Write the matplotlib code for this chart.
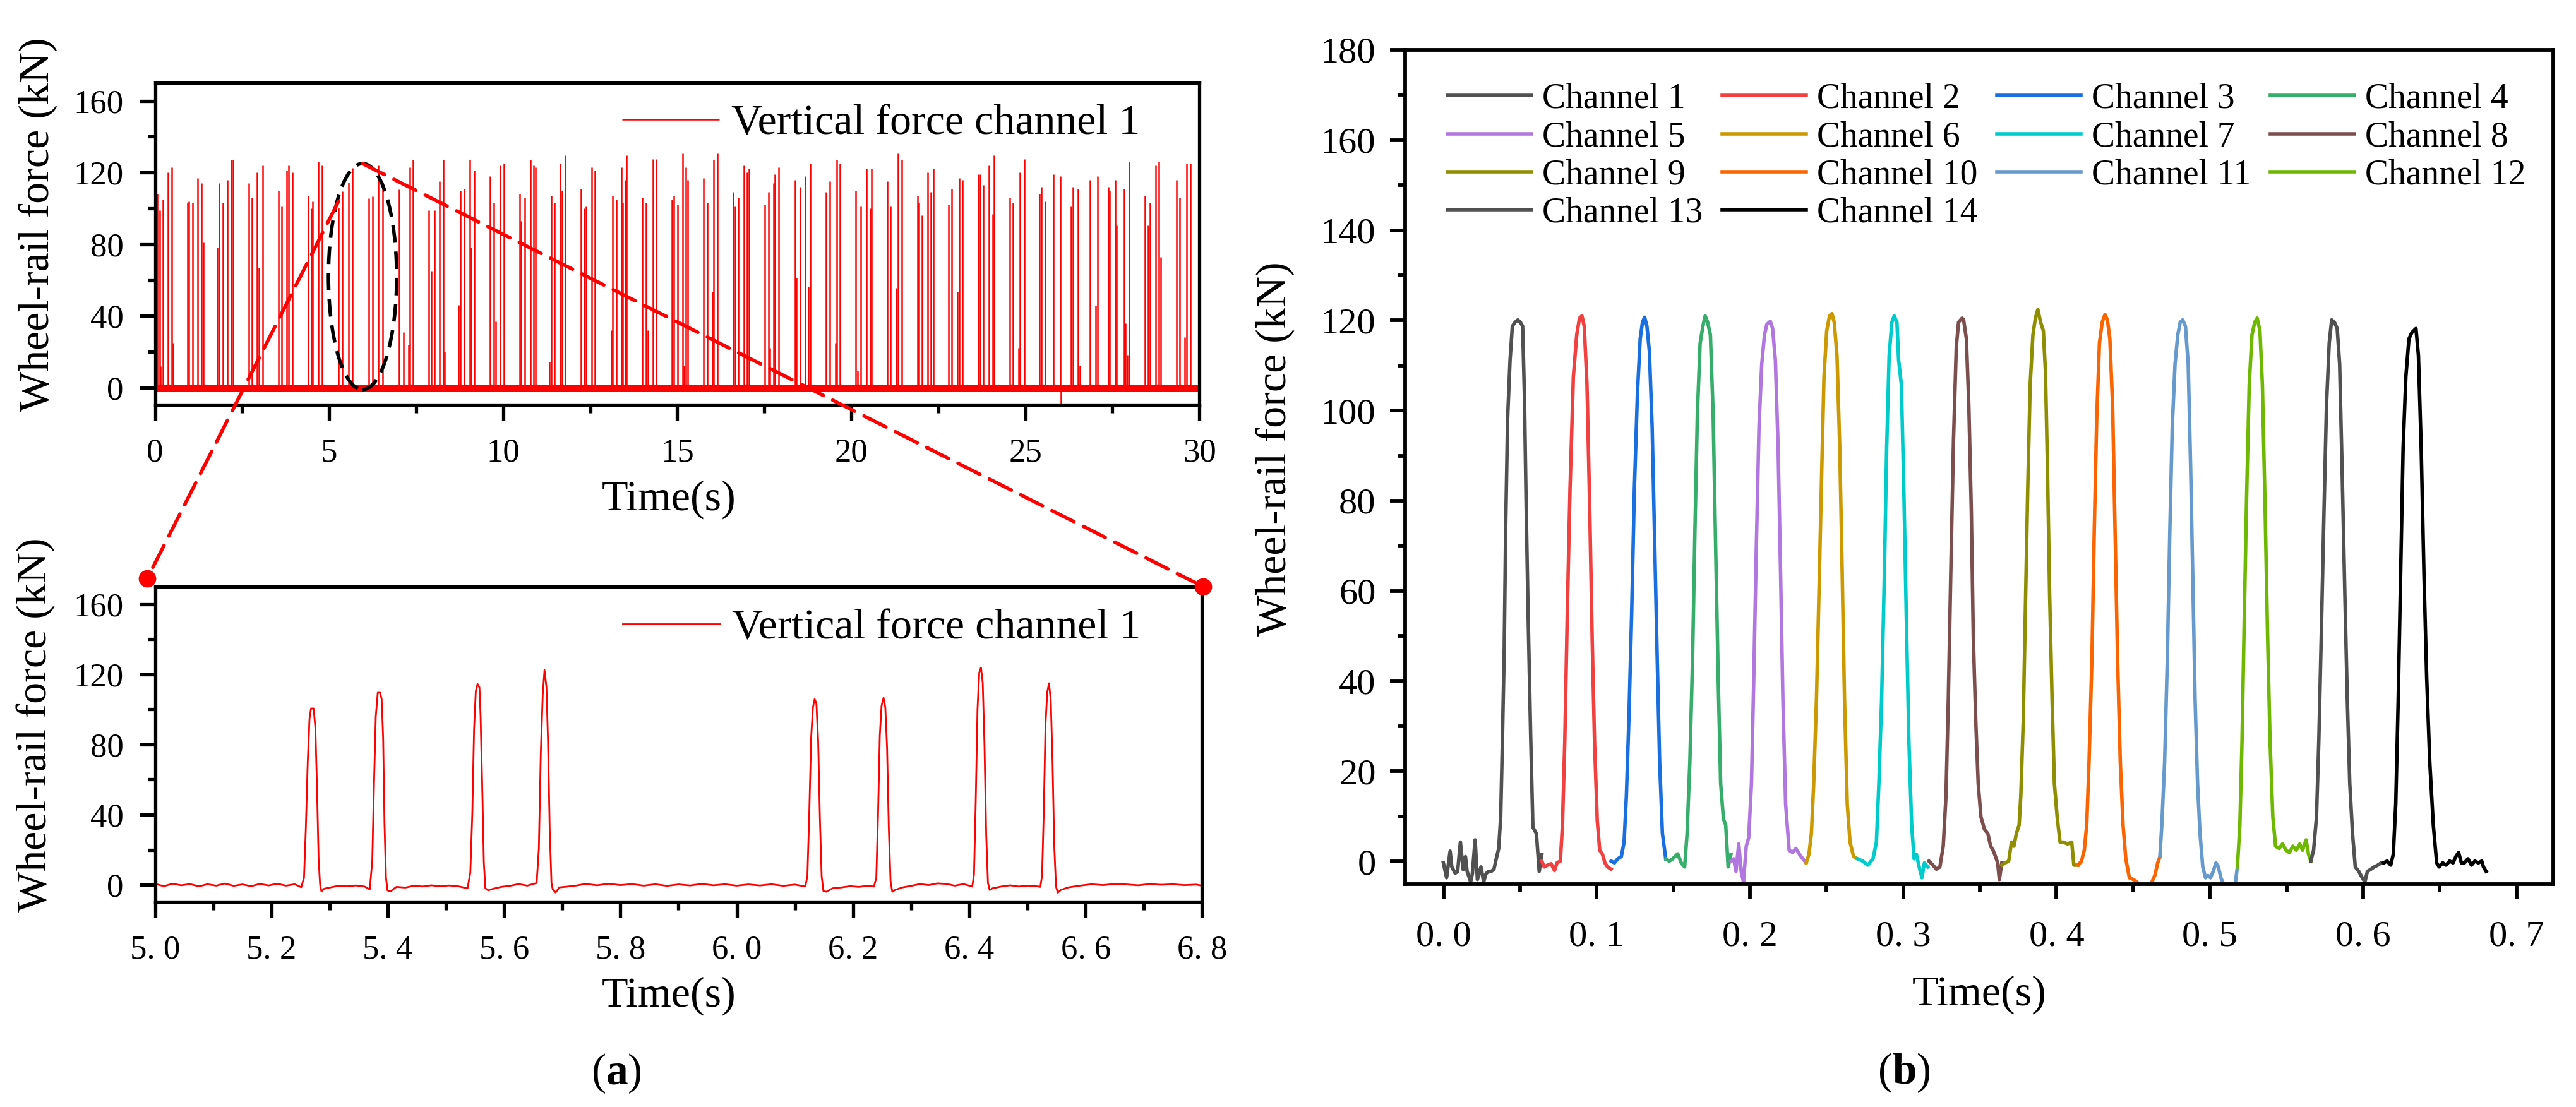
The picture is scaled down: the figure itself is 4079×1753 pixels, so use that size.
import matplotlib.pyplot as plt
from matplotlib.patches import Ellipse, ConnectionPatch
from matplotlib.ticker import MultipleLocator

plt.rcParams['font.family'] = ['Liberation Serif', 'DejaVu Serif']
plt.rcParams['mathtext.fontset'] = 'custom'
plt.rcParams['mathtext.rm'] = 'Liberation Serif'
plt.rcParams['mathtext.bf'] = 'Liberation Serif:bold'

# (a) top: 30 s record of vertical force, channel 1 (one spike per wheel)
spike_t = [0.062, 0.127, 0.153, 0.224, 0.367, 0.470, 0.516, 0.924, 0.969, 1.079,
           1.228, 1.325, 1.377, 1.779, 1.831, 1.941, 2.084, 2.181, 2.233, 2.686,
           2.784, 2.933, 2.978, 3.088, 3.542, 3.639, 3.788, 3.840, 3.950, 4.390,
           4.488, 4.533, 4.695, 4.805, 5.268, 5.383, 5.554, 5.670, 6.134, 6.253,
           6.420, 6.537, 7.015, 7.145, 7.287, 7.320, 7.417, 7.857, 7.935, 8.032,
           8.162, 8.272, 8.324, 8.713, 8.765, 8.875, 9.037, 9.069, 9.166, 9.620,
           9.737, 9.782, 9.912, 10.029, 10.475, 10.520, 10.617, 10.779, 10.876, 10.928,
           11.330, 11.382, 11.479, 11.635, 11.686, 11.783, 12.237, 12.334, 12.386, 12.542,
           12.639, 13.099, 13.145, 13.242, 13.391, 13.436, 13.501, 13.546, 14.000, 14.097,
           14.149, 14.298, 14.395, 14.843, 14.907, 15.005, 15.154, 15.193, 15.251, 15.303,
           15.757, 15.854, 16.009, 16.048, 16.158, 16.612, 16.657, 16.761, 16.917, 17.014,
           17.066, 17.506, 17.616, 17.662, 17.765, 17.811, 17.921, 18.381, 18.414, 18.524,
           18.673, 18.770, 18.828, 19.282, 19.379, 19.541, 19.580, 19.677, 20.124, 20.181,
           20.278, 20.427, 20.537, 20.589, 21.030, 21.127, 21.289, 21.334, 21.444, 21.898,
           21.931, 22.034, 22.190, 22.293, 22.352, 22.792, 22.890, 23.039, 23.097, 23.194,
           23.648, 23.700, 23.797, 23.946, 24.056, 24.108, 24.555, 24.652, 24.814, 24.847,
           24.964, 25.404, 25.469, 25.560, 25.806, 26.013, 26.020, 26.311, 26.369, 26.518,
           26.564, 26.862, 27.018, 27.070, 27.375, 27.427, 27.576, 27.621, 27.835, 27.880,
           27.932, 27.990, 28.431, 28.528, 28.580, 28.736, 28.833, 28.885, 29.339, 29.436,
           29.585, 29.637, 29.740]
spike_f = [108, 99, 12, 105, 120, 123, 25, 103, 104, 103,
           117, 114, 81, 78, 114, 103, 116, 127, 127, 114,
           106, 120, 67, 124, 110, 101, 121, 124, 120, 107,
           100, 104, 126, 124, 100.5, 109.5, 114.5, 122.4, 105.8, 106.6,
           123.9, 114.9, 110.5, 31, 24, 123, 127, 99, 65, 99,
           115, 127, 20, 46, 110, 111, 127, 78, 121, 118,
           103, 37, 124, 125, 108, 93, 106, 127, 124, 123,
           14.5, 107, 103, 125, 110, 129.5, 111, 100, 101, 123,
           121, 32, 107, 105, 123, 103, 116, 129.5, 106, 103,
           32, 127.6, 127.6, 105, 107, 102, 130.6, 12.5, 123, 116,
           117, 103, 53.6, 127, 130.6, 109, 101, 106, 124, 120,
           122, 102, 109, 22.3, 114, 119, 123, 116, 61.2, 112,
           118, 56.5, 125, 109, 115, 25.1, 127, 125, 110, 9.6,
           101, 122, 100, 122, 115, 101, 55.5, 130.6, 127, 107,
           103, 96, 120, 109, 122, 102, 111, 53.6, 117, 116,
           119, 119, 113, 124, 97, 129.5, 106, 103, 22.3, 120,
           127.6, 108, 112, 104, 119, 118, -9, 101, 112, 111,
           12.5, 116, 45.7, 118, 112, 110, 116, 90.5, 111, 35.9,
           18.4, 126, 107, 90.5, 103, 124, 126, 72.9, 116, 106,
           28.1, 125, 125]
band_t = [0, 30]
band_lo = [-2.6, -2.6]
band_hi = [1.8, 1.8]

# (a) bottom: 5.0-6.8 s detail of the same channel
zoom_t = [5.000, 5.015, 5.030, 5.045, 5.060, 5.075, 5.090, 5.105, 5.120, 5.135,
          5.150, 5.165, 5.180, 5.195, 5.210, 5.225, 5.240, 5.2512, 5.2560, 5.2590,
          5.2624, 5.2654, 5.2680, 5.2725, 5.2755, 5.2781, 5.2811, 5.2837, 5.2860, 5.2904,
          5.300, 5.315, 5.330, 5.345, 5.360, 5.369, 5.3734, 5.3764, 5.3794, 5.3828,
          5.3869, 5.3895, 5.3921, 5.3944, 5.3970, 5.3996, 5.4045, 5.415, 5.430, 5.445,
          5.460, 5.475, 5.490, 5.505, 5.520, 5.5372, 5.5420, 5.5454, 5.5484, 5.5514,
          5.5544, 5.5577, 5.5596, 5.5626, 5.5652, 5.5678, 5.5727, 5.580, 5.595, 5.610,
          5.625, 5.640, 5.6560, 5.6598, 5.6631, 5.6665, 5.6695, 5.6729, 5.6755, 5.6785,
          5.6815, 5.6837, 5.6886, 5.695, 5.710, 5.725, 5.740, 5.760, 5.780, 5.800,
          5.820, 5.840, 5.860, 5.880, 5.900, 5.920, 5.940, 5.960, 5.980, 6.000,
          6.020, 6.040, 6.060, 6.080, 6.100, 6.118, 6.1215, 6.1245, 6.1280, 6.1310,
          6.1340, 6.1370, 6.1400, 6.1430, 6.1460, 6.1490, 6.1540, 6.165, 6.180, 6.195,
          6.210, 6.225, 6.236, 6.2400, 6.2430, 6.2460, 6.2490, 6.2525, 6.2555, 6.2585,
          6.2615, 6.2645, 6.2675, 6.2720, 6.285, 6.300, 6.315, 6.330, 6.345, 6.360,
          6.375, 6.390, 6.405, 6.4080, 6.4110, 6.4140, 6.4170, 6.4200, 6.4230, 6.4260,
          6.4290, 6.4320, 6.4350, 6.4400, 6.455, 6.470, 6.485, 6.500, 6.515, 6.522,
          6.5250, 6.5280, 6.5310, 6.5340, 6.5370, 6.5400, 6.5430, 6.5460, 6.5490, 6.5520,
          6.5570, 6.570, 6.590, 6.610, 6.630, 6.650, 6.670, 6.690, 6.710, 6.730,
          6.750, 6.770, 6.790, 6.800]
zoom_f = [0.5, -0.8, 0.6, -0.3, 0.4, -0.9, 0.3, -0.5, 0.7, -0.6,
          0.2, -0.8, 0.5, -0.4, 0.6, -0.5, 0.3, -1.4, 4.0, 30.9,
          69.9, 94.5, 100.5, 100.5, 89.7, 58.5, 14.7, -0.2, -3.8, -2.3,
          -1.6, -0.6, -0.9, -0.4, -1.0, -2.6, 13.5, 57.9, 95.7, 109.5,
          109.5, 105.9, 83.7, 35.1, 4.0, -3.2, -3.8, -1.2, -1.6, -0.6,
          -1.0, -0.3, -0.9, -0.4, -0.8, -2.0, 7.0, 40.5, 88.5, 110.3,
          114.5, 112.5, 96.5, 53.7, 13.0, -2.0, -3.2, -2.4, -1.2, -0.6,
          0.4, -0.5, 1.0, 20.7, 74.7, 108.5, 122.4, 112.5, 82.5, 30.9,
          1.0, -2.6, -4.4, -1.5, -1.0, -0.4, 0.5, -0.3, 0.6, -0.2,
          0.4, -0.5, 0.3, -0.6, 0.2, -0.4, 0.5, -0.3, 0.3, -0.5,
          0.2, -0.4, 0.3, -0.6, 0.1, -1.0, 5.0, 38.0, 84.0, 101.0,
          105.8, 103.5, 82.0, 38.0, 5.0, -3.5, -4.0, -2.0, -1.5, -0.8,
          -1.2, -0.6, -1.0, 4.0, 40.0, 85.0, 102.0, 106.6, 101.0, 78.0,
          32.0, 2.0, -4.0, -3.0, -1.5, -0.6, 0.4, -0.2, 0.8, 0.5,
          -0.5, 0.4, -1.0, 6.0, 48.0, 100.0, 121.0, 123.9, 115.0, 80.0,
          28.0, 1.0, -3.0, -2.0, -1.0, -0.3, -1.0, -0.5, -0.8, -1.2,
          5.0, 42.0, 92.0, 110.0, 114.9, 105.0, 70.0, 22.0, -1.0, -4.5,
          -3.0, -1.5, -0.5, 0.3, -0.2, 0.5, 0.2, -0.3, 0.4, 0.0,
          0.3, -0.2, 0.1, -0.5]
zoom_ticks = [5.0, 5.2, 5.4, 5.6, 5.8, 6.0, 6.2, 6.4, 6.6, 6.8]
zoom_tick_labels = ['5. 0', '5. 2', '5. 4', '5. 6', '5. 8', '6. 0', '6. 2', '6. 4', '6. 6', '6. 8']

# (b) one wheel passage seen by the 14 channels
ch1_t = [0.000, 0.0021, 0.0044, 0.0055, 0.0077, 0.0093, 0.0111, 0.0129, 0.0144, 0.0155,
         0.0178, 0.0189, 0.0207, 0.0222, 0.0245, 0.0263, 0.0278, 0.0294, 0.0312, 0.0330,
         0.0345, 0.0361, 0.0374, 0.0385, 0.0397, 0.0406, 0.0419, 0.0435, 0.0450, 0.0468,
         0.0486, 0.0502, 0.0517, 0.0529, 0.0540, 0.0553, 0.0569, 0.0584, 0.0607, 0.0625, 0.0642]
ch1_f = [-0.3, -3.6, 2.3, -1.2, -2.6, -2.2, 4.3, -1.8, 1.1, -2.2,
         -4.5, -2.7, 4.8, -4.0, -1.2, -4.5, -2.7, -2.2, -2.2, -1.7,
         0.6, 2.9, 9.9, 26.6, 47.1, 73.1, 98.2, 111.2, 118.7, 119.6,
         120.1, 119.6, 118.7, 102.9, 78.7, 54.5, 28.5, 7.6, 6.2, -2.2, 1.5]
ch2_t = [0.0642, 0.0658, 0.0680, 0.0703, 0.0725, 0.0741, 0.0763, 0.0777, 0.0792, 0.0808,
         0.0826, 0.0848, 0.0870, 0.0888, 0.0904, 0.0919, 0.0937, 0.0955, 0.0971, 0.0986,
         0.1004, 0.1020, 0.1038, 0.1054, 0.1071, 0.1094]
ch2_f = [0.1, -1.2, -0.8, -0.5, -2.0, -0.3, 0.1, 8.1, 26.6, 54.5,
         82.4, 107.5, 116.8, 120.5, 121.0, 118.7, 105.7, 77.8, 49.0, 26.6,
         9.0, 2.5, 1.6, -0.3, -1.2, -1.7]
ch3_t = [0.1094, 0.1116, 0.1138, 0.1161, 0.1179, 0.1194, 0.1210, 0.1228, 0.1246, 0.1266,
         0.1284, 0.1299, 0.1313, 0.1328, 0.1344, 0.1362, 0.1380, 0.1395, 0.1411, 0.1429, 0.1451]
ch3_f = [0.1, -0.3, 0.6, 1.1, 4.3, 14.6, 31.3, 54.5, 82.4, 103.8,
         115.9, 119.6, 120.7, 118.7, 113.1, 96.4, 68.5, 45.2, 22.0, 6.2, 0.6]
ch4_t = [0.1451, 0.1474, 0.1496, 0.1529, 0.1552, 0.1574, 0.1590, 0.1608, 0.1626, 0.1641,
         0.1657, 0.1675, 0.1693, 0.1708, 0.1724, 0.1742, 0.1760, 0.1777, 0.1793, 0.1809,
         0.1827, 0.1842, 0.1858, 0.1876]
ch4_f = [0.6, 0.1, 0.6, 1.7, -0.3, -1.2, 6.2, 22.0, 45.2, 73.1,
         99.2, 114.9, 118.7, 121.0, 119.6, 116.8, 99.2, 68.5, 40.6, 17.3,
         9.5, 8.1, -1.2, 1.6]
ch5_t = [0.1876, 0.1894, 0.1909, 0.1927, 0.1943, 0.1958, 0.1976, 0.1992, 0.2010, 0.2025,
         0.2041, 0.2059, 0.2077, 0.2095, 0.2110, 0.2133, 0.2148, 0.2166, 0.2184, 0.2200,
         0.2215, 0.2233, 0.2256, 0.2278, 0.2300, 0.2323, 0.2345, 0.2367]
ch5_f = [0.1, 0.6, -2.2, 3.9, -2.2, -4.5, 3.4, 5.3, 17.3, 40.6,
         68.5, 96.4, 110.3, 116.8, 119.1, 119.8, 118.2, 111.2, 91.7, 63.8,
         35.9, 12.7, 2.5, 2.0, 2.9, 1.6, 0.6, -0.3]
ch6_t = [0.2367, 0.2385, 0.2401, 0.2416, 0.2434, 0.2450, 0.2468, 0.2483, 0.2501, 0.2519,
         0.2535, 0.2550, 0.2568, 0.2586, 0.2602, 0.2617, 0.2635, 0.2653, 0.2676, 0.2702]
ch6_f = [-0.3, 1.6, 6.2, 17.3, 35.9, 59.2, 86.1, 107.5, 117.7, 121.0,
         121.5, 119.6, 112.2, 91.7, 63.8, 35.9, 12.7, 4.3, 1.1, 0.6]
ch7_t = [0.2702, 0.2736, 0.2769, 0.2803, 0.2825, 0.2841, 0.2859, 0.2877, 0.2892, 0.2908,
         0.2926, 0.2941, 0.2959, 0.2970, 0.2988, 0.3004, 0.3020, 0.3037, 0.3055, 0.3071,
         0.3086, 0.3104, 0.3122, 0.3138, 0.3160]
ch7_f = [0.6, 0.1, -0.8, 0.6, 4.3, 17.3, 35.9, 63.8, 91.7, 112.2,
         119.6, 121.0, 119.6, 111.2, 105.7, 82.4, 54.5, 26.6, 8.1, 0.6,
         1.6, -1.2, -3.6, -0.3, -1.2]
ch8_t = [0.3167, 0.3194, 0.3216, 0.3239, 0.3261, 0.3279, 0.3294, 0.3310, 0.3328, 0.3346,
         0.3361, 0.3384, 0.3394, 0.3412, 0.3428, 0.3444, 0.3457, 0.3473, 0.3489, 0.3507,
         0.3530, 0.3552, 0.3570, 0.3586, 0.3602, 0.3616, 0.3627, 0.3643]
ch8_f = [0.1, -0.8, -1.7, -1.2, 3.4, 14.6, 35.9, 63.8, 93.6, 114.0,
         119.6, 120.5, 120.1, 115.9, 101.0, 77.8, 49.9, 31.3, 17.3, 9.9,
         7.1, 6.2, 3.4, 2.5, 1.1, -0.3, -4.0, -0.3]
ch9_t = [0.3643, 0.3665, 0.3688, 0.3706, 0.3722, 0.3738, 0.3756, 0.3767, 0.3783, 0.3796,
         0.3812, 0.3828, 0.3846, 0.3862, 0.3878, 0.3896, 0.3914, 0.3928, 0.3941, 0.3955,
         0.3971, 0.3986, 0.4004, 0.4023, 0.4045, 0.4072, 0.4099, 0.4113, 0.4140]
ch9_f = [-0.8, -0.3, 0.1, 4.3, 3.4, 6.2, 8.1, 14.6, 31.3, 54.5,
         82.4, 105.7, 116.8, 120.5, 122.4, 119.6, 117.7, 108.4, 87.1, 59.2,
         35.9, 17.3, 9.9, 4.3, 4.3, 3.9, 4.3, -0.8, -0.8]
ch10_t = [0.4140, 0.4163, 0.4181, 0.4197, 0.4212, 0.4231, 0.4246, 0.4262, 0.4280, 0.4298,
          0.4316, 0.4332, 0.4348, 0.4366, 0.4382, 0.4398, 0.4416, 0.4434, 0.4452, 0.4475,
          0.4502, 0.4525, 0.4558, 0.4592, 0.4619, 0.4642, 0.4660, 0.4674]
ch10_f = [-0.8, 0.1, 2.5, 8.1, 22.0, 45.2, 73.1, 98.2, 115.0, 119.6,
          121.3, 120.1, 115.9, 101.0, 73.1, 45.2, 22.0, 8.1, 0.6, -3.6,
          -4.0, -4.5, -6.5, -7.0, -4.8, -3.0, -0.3, 1.0]
ch11_t = [0.4674, 0.4687, 0.4705, 0.4723, 0.4739, 0.4755, 0.4773, 0.4791, 0.4807, 0.4823,
          0.4841, 0.4859, 0.4875, 0.4891, 0.4904, 0.4920, 0.4936, 0.4954, 0.4972, 0.4988,
          0.5004, 0.5022, 0.5040, 0.5056, 0.5072, 0.5090, 0.5120, 0.5150, 0.5164, 0.5180]
ch11_f = [1.1, 8.1, 22.0, 45.2, 73.1, 96.4, 110.3, 116.8, 119.6, 120.1,
          118.7, 110.3, 87.1, 59.2, 35.9, 17.3, 6.2, -1.2, -3.6, -3.1,
          -3.6, -2.2, -0.3, -1.2, -3.6, -5.0, -7.0, -7.0, -5.4, -1.2]
ch12_t = [0.5180, 0.5196, 0.5210, 0.5225, 0.5241, 0.5257, 0.5275, 0.5293, 0.5309, 0.5327,
          0.5343, 0.5361, 0.5377, 0.5393, 0.5411, 0.5429, 0.5452, 0.5474, 0.5497, 0.5519,
          0.5542, 0.5564, 0.5587, 0.5605, 0.5628, 0.5644, 0.5659]
ch12_f = [-1.2, 8.1, 26.6, 54.5, 82.4, 105.7, 116.8, 119.6, 120.5, 117.7,
          105.7, 77.8, 49.9, 26.6, 9.9, 3.4, 2.9, 3.9, 2.5, 2.0,
          3.4, 2.5, 3.9, 2.5, 4.8, 1.6, 0.1]
ch13_t = [0.5659, 0.5677, 0.5696, 0.5711, 0.5727, 0.5745, 0.5761, 0.5779, 0.5795, 0.5813,
          0.5831, 0.5847, 0.5863, 0.5881, 0.5897, 0.5913, 0.5931, 0.5949, 0.5972, 0.5994,
          0.6012, 0.6028, 0.6051, 0.6073, 0.6096, 0.6118, 0.6134]
ch13_f = [0.1, 2.5, 9.9, 26.6, 49.9, 77.8, 101.0, 115.0, 120.1, 119.6,
          118.2, 110.3, 87.1, 59.2, 35.9, 17.3, 6.2, -1.2, -2.2, -3.6,
          -4.5, -2.2, -1.7, -1.2, -0.8, -0.3, -0.3]
ch14_t = [0.6134, 0.6157, 0.6180, 0.6197, 0.6213, 0.6229, 0.6245, 0.6261, 0.6279, 0.6299,
          0.6318, 0.6345, 0.6361, 0.6379, 0.6397, 0.6415, 0.6435, 0.6458, 0.6480, 0.6496,
          0.6519, 0.6541, 0.6564, 0.6587, 0.6605, 0.6623, 0.6641, 0.6661, 0.6684, 0.6707,
          0.6729, 0.6752, 0.6774, 0.6785, 0.6803]
ch14_f = [-0.3, 0.1, -0.8, 1.6, 12.7, 35.9, 63.8, 91.7, 107.5, 115.9,
          117.3, 118.2, 112.2, 91.7, 63.8, 40.6, 22.0, 8.1, -0.3, -1.2,
          -0.3, -0.8, 0.1, -0.3, 1.1, 2.0, -0.3, -0.3, 0.6, -0.8,
          0.1, -0.3, 0.1, -1.2, -2.2]
channel_names = ['Channel %d' % i for i in range(1, 15)]
channel_colors = ['#515151', '#F0403F', '#1A6FDF', '#37AD6B', '#B177DE', '#CC9900', '#00CBCC',
                  '#7D4E4E', '#8E8E00', '#FB6501', '#6699CC', '#6FB802', '#515151', '#000000']
b_ticks = [0.0, 0.1, 0.2, 0.3, 0.4, 0.5, 0.6, 0.7]
b_tick_labels = ['0. 0', '0. 1', '0. 2', '0. 3', '0. 4', '0. 5', '0. 6', '0. 7']

ch_t = [ch1_t, ch2_t, ch3_t, ch4_t, ch5_t, ch6_t, ch7_t,
        ch8_t, ch9_t, ch10_t, ch11_t, ch12_t, ch13_t, ch14_t]
ch_f = [ch1_f, ch2_f, ch3_f, ch4_f, ch5_f, ch6_f, ch7_f,
        ch8_f, ch9_f, ch10_f, ch11_f, ch12_f, ch13_f, ch14_f]


def style_axes(ax, spine_w, tick_len, label_size, xpad, ypad):
    for s in ax.spines.values():
        s.set_linewidth(spine_w)
    ax.tick_params(which='both', direction='out', width=spine_w, labelsize=label_size)
    ax.tick_params(which='major', length=tick_len)
    ax.tick_params(which='minor', length=tick_len * 0.5)
    ax.tick_params(axis='x', pad=xpad)
    ax.tick_params(axis='y', pad=ypad)


def place_labels(ax, xl, yl, size):
    ax.set_xlabel('Time(s)', fontsize=size)
    ax.set_ylabel('Wheel-rail force (kN)', fontsize=size)
    ax.xaxis.label.set_verticalalignment('center')
    ax.yaxis.label.set_verticalalignment('center')
    ax.xaxis.set_label_coords(*xl)
    ax.yaxis.set_label_coords(*yl)


fig = plt.figure(figsize=(20.4, 8.765), dpi=200)
ax1 = fig.add_axes([0.0602, 0.6343, 0.4053, 0.2909])
ax2 = fig.add_axes([0.0602, 0.1854, 0.4063, 0.2847])
ax3 = fig.add_axes([0.5453, 0.2014, 0.4456, 0.7536])

red = '#FF0000'

# --- (a) full record
ax1.fill_between(band_t, band_lo, band_hi, color=red, lw=0)
ax1.vlines(spike_t, 0, spike_f, color=red, lw=0.9, label='Vertical force channel 1')
ax1.set_xlim(0, 30)
ax1.set_ylim(-9.5, 170)
ax1.xaxis.set_major_locator(MultipleLocator(5))
ax1.xaxis.set_minor_locator(MultipleLocator(2.5))
ax1.yaxis.set_major_locator(MultipleLocator(40))
ax1.yaxis.set_minor_locator(MultipleLocator(20))
style_axes(ax1, 1.9, 9, 19, 10, 9)
place_labels(ax1, (0.492, -0.294), (-0.1116, 0.56), 24.5)
ax1.legend(loc='center left', bbox_to_anchor=(0.447, 0.8725), frameon=False,
           fontsize=24.5, handlelength=2.26, handletextpad=0.28,
           borderpad=0, borderaxespad=0)

# zoom window marker
zoom_win = (5.0, 6.8)
ell_c = ((zoom_win[0] + zoom_win[1]) / 2 + 0.06, 62)
ax1.add_patch(Ellipse(ell_c, 1.96, 126, fill=False, ec='black', lw=2.0,
                      ls=(0, (5, 2.5)), zorder=5))

# --- (a) detail
ax2.plot(zoom_t, zoom_f, color=red, lw=1.0, label='Vertical force channel 1')
ax2.set_xlim(*zoom_win)
ax2.set_ylim(-9.7, 170)
ax2.set_xticks(zoom_ticks, zoom_tick_labels)
ax2.xaxis.set_minor_locator(MultipleLocator(0.1))
ax2.yaxis.set_major_locator(MultipleLocator(40))
ax2.yaxis.set_minor_locator(MultipleLocator(20))
style_axes(ax2, 1.9, 9, 19, 10, 9)
place_labels(ax2, (0.491, -0.2986), (-0.1137, 0.561), 24.5)
ax2.legend(loc='center left', bbox_to_anchor=(0.4468, 0.8677), frameon=False,
           fontsize=24.5, handlelength=2.26, handletextpad=0.28,
           borderpad=0, borderaxespad=0)

# connectors from the ellipse to the detail panel
ends_a = [(ell_c[0], ell_c[1] + 63), (5.27, 104)]
ends_b = [(1.001, 1.0), (-0.0075, 1.026)]
for pa, pb in zip(ends_a, ends_b):
    con = ConnectionPatch(xyA=pa, coordsA='data', axesA=ax1,
                          xyB=pb, coordsB='axes fraction', axesB=ax2,
                          color=red, lw=2.0, ls=(0, (7, 3)), zorder=10)
    fig.add_artist(con)
    ax2.plot(pb[0], pb[1], 'o', color=red, ms=9, transform=ax2.transAxes,
             clip_on=False, zorder=11)

# --- (b)
lines = []
for t, f, name, c in zip(ch_t, ch_f, channel_names, channel_colors):
    ln, = ax3.plot(t, f, color=c, lw=2.0, label=name)
    lines.append(ln)
ax3.set_xlim(-0.025, 0.724)
ax3.set_ylim(-5, 180)
ax3.set_xticks(b_ticks, b_tick_labels)
ax3.xaxis.set_minor_locator(MultipleLocator(0.05))
ax3.yaxis.set_major_locator(MultipleLocator(20))
ax3.yaxis.set_minor_locator(MultipleLocator(10))
style_axes(ax3, 2.1, 8.6, 21, 12, 8)
place_labels(ax3, (0.5, -0.133), (-0.1128, 0.522), 24.5)

# row-major order for a 4-column legend
order = [0, 4, 8, 12, 1, 5, 9, 13, 2, 6, 10, 3, 7, 11]
ax3.legend([lines[i] for i in order], [channel_names[i] for i in order],
           ncol=4, loc='upper left', bbox_to_anchor=(0.0369, 0.9606),
           frameon=False, fontsize=20, handlelength=2.4, handletextpad=0.3,
           columnspacing=0.55, labelspacing=0.15, borderpad=0, borderaxespad=0)

fig.text(976 / 4080, 1 - 1700 / 1753, r'($\mathbf{a}$)', ha='center', va='center', fontsize=25)
fig.text(3015 / 4080, 1 - 1699 / 1753, r'($\mathbf{b}$)', ha='center', va='center', fontsize=25)

fig.savefig('out.png', dpi=200)
